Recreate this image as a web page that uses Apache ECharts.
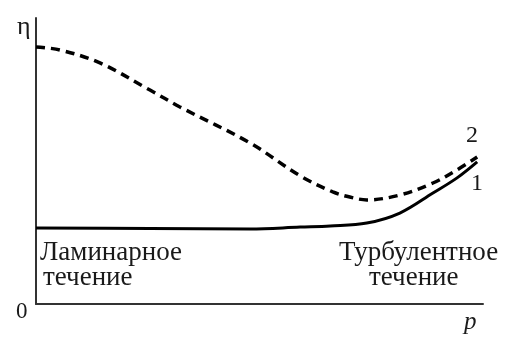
<!DOCTYPE html>
<html><head><meta charset="utf-8">
<script src="https://cdn.jsdelivr.net/npm/echarts@6/dist/echarts.min.js"></script>
<style>html,body{margin:0;padding:0;background:#fff}#c{width:530px;height:342px}</style>
</head><body><div id="c"></div>
<script>
// Curve 2 (dashed) and curve 1 (solid): [p, eta] in relative units
const curve2X = [0, 5.4, 14.3, 25.5, 32.2, 47.9, 59.1, 66.4, 70.2, 74.0, 81.4, 88.8, 94.2, 98.7];
const curve2Y = [89.9, 88.8, 84.3, 74.8, 68.9, 56.3, 44.8, 39.2, 37.4, 36.4, 38.1, 42.3, 46.9, 51.4];
const curve1X = [0, 25.5, 47.9, 59.1, 65.8, 74.0, 81.4, 88.8, 94.2, 98.7];
const curve1Y = [26.6, 26.4, 26.2, 26.9, 27.3, 28.3, 31.8, 38.8, 44.1, 49.7];
const curveNames = ['1', '2'];
const axisLabels = {y: 'η', x: 'p', origin: '0'};
const regionLabels = [['Ламинарное', 'течение'], ['Турбулентное', 'течение']];

const chart = echarts.init(document.getElementById('c'), null, {renderer: 'canvas'});
const zip = (xs, ys) => xs.map((x, i) => [x, ys[i]]);
const FF = 'Liberation Serif';
function txt(text, x, y, size, extra) {
  return {type: 'text', x: x, y: y,
    style: Object.assign({text: text, fontFamily: FF, fontSize: size, fill: '#1a1a1a',
      textAlign: 'left', textVerticalAlign: 'top'}, extra || {})};
}
chart.setOption({
  animation: false,
  backgroundColor: '#fff',
  grid: {left: 36, right: 47, top: 18, bottom: 38},
  xAxis: {type: 'value', min: 0, max: 100, axisLine: {lineStyle: {color: '#333', width: 2}},
    axisTick: {show: false}, axisLabel: {show: false}, splitLine: {show: false}},
  yAxis: {type: 'value', min: 0, max: 100, axisLine: {show: true, lineStyle: {color: '#333', width: 2}},
    axisTick: {show: false}, axisLabel: {show: false}, splitLine: {show: false}},
  series: [
    {name: curveNames[1], type: 'line', data: zip(curve2X, curve2Y), smooth: 0.35, symbol: 'none',
      lineStyle: {color: '#000', width: 3.5, type: [9, 6]}},
    {name: curveNames[0], type: 'line', data: zip(curve1X, curve1Y), smooth: 0.35, symbol: 'none',
      lineStyle: {color: '#000', width: 3}}
  ],
  graphic: [
    txt(axisLabels.y, 17, 14, 26),
    txt(axisLabels.origin, 16, 300, 23),
    txt(axisLabels.x, 464, 310, 25, {fontStyle: 'italic'}),
    txt(curveNames[1], 466, 124, 24),
    txt(curveNames[0], 471, 172, 24),
    txt(regionLabels[0][0], 40, 239, 27),
    txt(regionLabels[0][1], 43, 264, 27),
    txt(regionLabels[1][0], 339, 239, 27),
    txt(regionLabels[1][1], 369, 264, 27)
  ]
});
</script></body></html>
